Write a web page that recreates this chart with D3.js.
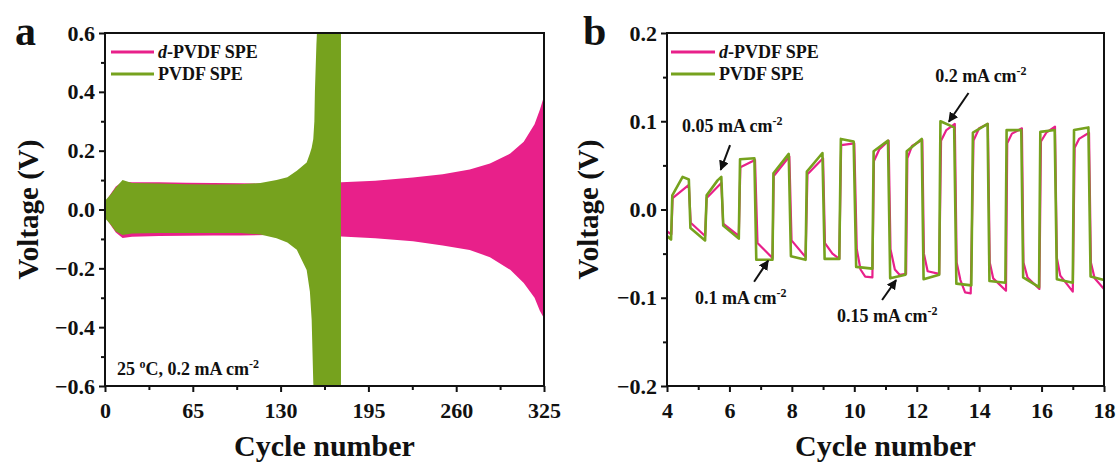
<!DOCTYPE html>
<html><head><meta charset="utf-8">
<script src="https://cdn.jsdelivr.net/npm/d3@7"></script>
<style>
html,body{margin:0;padding:0;background:#fff;}
svg text{font-family:"Liberation Serif","Times New Roman",serif;font-weight:bold;fill:#111;}
</style></head>
<body><svg id="chart" width="1118" height="463"></svg>
<script>
// ---------- DATA ----------
// Panel a: envelope of the voltage oscillation (cycle, upper V, lower V)
const dpvdfEnvCycle = [0, 3, 8, 13, 20, 40, 60, 80, 100, 120, 160, 175, 200, 228, 250, 270, 285, 300, 310, 318, 322, 325];
const dpvdfEnvUpper = [0.02, 0.045, 0.078, 0.094, 0.093, 0.093, 0.091, 0.09, 0.089, 0.088, 0.089, 0.093, 0.098, 0.109, 0.12, 0.136, 0.156, 0.19, 0.23, 0.29, 0.34, 0.385];
const dpvdfEnvLower = [-0.02, -0.045, -0.078, -0.097, -0.093, -0.09, -0.089, -0.088, -0.088, -0.087, -0.09, -0.092, -0.098, -0.108, -0.122, -0.138, -0.162, -0.205, -0.25, -0.3, -0.345, -0.37];

const pvdfEnvCycle = [0, 4, 8, 13, 20, 40, 60, 80, 100, 115, 127, 135, 142, 149.3, 151.7, 153, 154.2, 155, 155.4, 156.5, 157.4, 174.7];
const pvdfEnvUpper = [0.03, 0.05, 0.075, 0.1, 0.09, 0.088, 0.086, 0.085, 0.086, 0.09, 0.1, 0.11, 0.132, 0.16, 0.19, 0.21, 0.24, 0.3, 0.4, 0.56, 0.65, 0.65];
const pvdfEnvLower = [-0.03, -0.05, -0.075, -0.087, -0.082, -0.08, -0.08, -0.08, -0.08, -0.085, -0.098, -0.112, -0.137, -0.206, -0.28, -0.376, -0.59, -0.65, -0.65, -0.65, -0.65, -0.65];

// Panel b: voltage profiles (cycle number, V)
const dpvdfB_x = [4.0,4.14,4.18,4.7,4.76,5.22, 5.27,5.74,5.8,6.3, 6.35,6.82,6.9,7.38, 7.42,7.92,7.99,8.44, 8.5,9.0,9.06,9.3,9.52, 9.58,10.0,10.08,10.2,10.35,10.58, 10.63,10.8,11.1,11.16,11.3,11.45,11.66, 11.7,11.85,12.18,12.23,12.35,12.72, 12.78,12.95,13.22,13.28,13.4,13.55,13.73, 13.82,14.0,14.28,14.34,14.45,14.86, 14.9,15.05,15.37,15.42,15.55,15.93, 15.98,16.15,16.43,16.49,16.6,17.0, 17.06,17.2,17.52,17.58,17.7,18.0];
const dpvdfB_y = [-0.025,-0.028,0.013,0.028,-0.015,-0.03, 0.013,0.03,-0.016,-0.03, 0.048,0.056,-0.038,-0.055, 0.038,0.060,-0.035,-0.054, 0.040,0.058,-0.038,-0.05,-0.056, 0.073,0.075,-0.045,-0.068,-0.076,-0.077, 0.055,0.068,0.078,-0.045,-0.068,-0.074,-0.073, 0.058,0.072,0.079,-0.05,-0.07,-0.073, 0.078,0.09,0.097,-0.06,-0.08,-0.094,-0.095, 0.078,0.092,0.097,-0.06,-0.078,-0.092, 0.075,0.086,0.092,-0.06,-0.077,-0.09, 0.077,0.087,0.094,-0.055,-0.075,-0.093, 0.07,0.08,0.087,-0.06,-0.078,-0.09];

const pvdfB_x = [4.0,4.13,4.17,4.5,4.7,4.75,5.22, 5.27,5.62,5.74,5.8,6.3, 6.34,6.8,6.86,7.38, 7.41,7.9,7.97,8.44, 8.48,8.98,9.05,9.52, 9.57,9.98,10.06,10.58, 10.62,11.08,11.15,11.64, 11.68,12.16,12.22,12.72, 12.76,13.2,13.27,13.75, 13.8,14.27,14.33,14.84, 14.88,15.35,15.41,15.92, 15.96,16.42,16.49,17.0, 17.04,17.5,17.57,18.0];
const pvdfB_y = [-0.03,-0.034,0.016,0.037,0.034,-0.021,-0.035, 0.016,0.033,0.037,-0.018,-0.033, 0.057,0.058,-0.057,-0.057, 0.041,0.063,-0.053,-0.057, 0.043,0.064,-0.056,-0.056, 0.080,0.077,-0.065,-0.067, 0.066,0.078,-0.078,-0.074, 0.066,0.080,-0.079,-0.074, 0.100,0.093,-0.084,-0.086, 0.087,0.097,-0.081,-0.083, 0.090,0.090,-0.077,-0.088, 0.088,0.090,-0.079,-0.083, 0.090,0.093,-0.076,-0.080];

// Tick labels
const aXTicks = [0, 65, 130, 195, 260, 325];
const aYTicks = [-0.6, -0.4, -0.2, 0.0, 0.2, 0.4, 0.6];
const bXTicks = [4, 6, 8, 10, 12, 14, 16, 18];
const bYTicks = [-0.2, -0.1, 0.0, 0.1, 0.2];
const seriesNames = ["d-PVDF SPE", "PVDF SPE"];
const bNotes = [
  {label: "0.05 mA cm", tx: 4.48, ty: 0.0878, ax1: 6.02, ay1: 0.073, ax2: 5.72, ay2: 0.045},
  {label: "0.1 mA cm",  tx: 4.9,  ty: -0.107, ax1: 6.79, ay1: -0.0818, ax2: 7.24, ay2: -0.058},
  {label: "0.15 mA cm", tx: 9.45, ty: -0.1275, ax1: 10.89, ay1: -0.1026, ax2: 11.34, ay2: -0.08},
  {label: "0.2 mA cm",  tx: 12.59, ty: 0.1445, ax1: 13.66, ay1: 0.132, ax2: 13.03, ay2: 0.0995}
];

// ---------- STYLE ----------
const PINK = "#e8208a", GREEN = "#76a21e";
const svg = d3.select("#chart");
const plotTop = 33, plotBottom = 386;

const defs = svg.append("defs");
defs.append("marker").attr("id","arrow").attr("viewBox","0 0 10 10").attr("refX",9).attr("refY",5)
  .attr("markerWidth",5).attr("markerHeight",5).attr("markerUnits","strokeWidth").attr("orient","auto")
  .append("path").attr("d","M0,0 L10,5 L0,10 z").attr("fill","#111");

function fmt(v){ return v === 0 ? "0.0" : d3.format(".1f")(v); }

function frame(g, x, y, xMajor, xMinor, yMajor, yMinor, xFmt, yFmt){
  const [x0,x1] = x.range(), [y0,y1] = y.range();
  const xa = g.append("g").attr("transform",`translate(0,${y0})`)
    .call(d3.axisBottom(x).tickValues(xMajor).tickSize(6).tickPadding(10).tickFormat(xFmt));
  const xm = g.append("g").attr("transform",`translate(0,${y0})`)
    .call(d3.axisBottom(x).tickValues(xMinor).tickSize(4).tickFormat(""));
  const ya = g.append("g").attr("transform",`translate(${x0},0)`)
    .call(d3.axisLeft(y).tickValues(yMajor).tickSize(6).tickPadding(4).tickFormat(yFmt));
  const ym = g.append("g").attr("transform",`translate(${x0},0)`)
    .call(d3.axisLeft(y).tickValues(yMinor).tickSize(4).tickFormat(""));
  [xa,xm,ya,ym].forEach(a=>{
    a.select(".domain").remove();
    a.selectAll("line").attr("stroke","#111").attr("stroke-width",2);
    a.selectAll("text").style("font-size","22px").attr("fill","#111");
  });
  g.append("rect").attr("x",x0).attr("y",y1).attr("width",x1-x0).attr("height",y0-y1)
    .attr("fill","none").attr("stroke","#111").attr("stroke-width",2);
}

function titles(g, x, y, cx, letter, letterX){
  const [x0,x1] = x.range();
  g.append("text").attr("x",(x0+x1)/2).attr("y",456).attr("text-anchor","middle")
    .style("font-size","30px").text("Cycle number");
  g.append("text").attr("transform",`translate(${cx},209.5) rotate(-90)`).attr("text-anchor","middle")
    .style("font-size","29px").text("Voltage (V)");
  g.append("text").attr("x",letterX).attr("y",45).style("font-size","42px").text(letter);
}

function legend(g, lx, lineLen){
  const items = [{name: seriesNames[0], color: PINK, y: 52},{name: seriesNames[1], color: GREEN, y: 74}];
  items.forEach((it,i)=>{
    g.append("line").attr("x1",lx).attr("x2",lx+lineLen).attr("y1",it.y).attr("y2",it.y)
      .attr("stroke",it.color).attr("stroke-width",3);
    const t = g.append("text").attr("x",lx+lineLen+4).attr("y",it.y+6).style("font-size","18px");
    if (i===0){ t.append("tspan").style("font-style","italic").text("d"); t.append("tspan").text("-PVDF SPE"); }
    else t.text(it.name);
  });
}

// ---------- PANEL A ----------
const xA = d3.scaleLinear().domain([0,325]).range([105,544]);
const yA = d3.scaleLinear().domain([-0.6,0.6]).range([plotBottom,plotTop]);
const ga = svg.append("g");
defs.append("clipPath").attr("id","clipA").append("rect").attr("x",105).attr("y",plotTop).attr("width",439).attr("height",plotBottom-plotTop);
const area = d3.area().x(d=>xA(d[0])).y0(d=>yA(d[2])).y1(d=>yA(d[1]));
const envPink = dpvdfEnvCycle.map((c,i)=>[c,dpvdfEnvUpper[i],dpvdfEnvLower[i]]);
const envGreen = pvdfEnvCycle.map((c,i)=>[c,pvdfEnvUpper[i],pvdfEnvLower[i]]);
const pa = ga.append("g").attr("clip-path","url(#clipA)");
pa.append("path").attr("d",area(envPink)).attr("fill",PINK);
pa.append("path").attr("d",area(envGreen)).attr("fill",GREEN);
frame(ga, xA, yA, aXTicks, [32.5,97.5,162.5,227.5,292.5], aYTicks, [-0.5,-0.3,-0.1,0.1,0.3,0.5], d3.format("d"), fmt);
legend(ga, 111, 43);
const note = ga.append("text").attr("x",117).attr("y",375).style("font-size","18px");
note.append("tspan").text("25 ");
note.append("tspan").attr("dy",-7).style("font-size","12px").text("o");
note.append("tspan").attr("dy",7).text("C, 0.2 mA cm");
note.append("tspan").attr("dy",-7).style("font-size","12px").text("-2");
titles(ga, xA, yA, 38, "a", 15);

// ---------- PANEL B ----------
const xB = d3.scaleLinear().domain([4,18]).range([667,1104]);
const yB = d3.scaleLinear().domain([-0.2,0.2]).range([plotBottom,plotTop]);
const gb = svg.append("g");
const line = d3.line().x(d=>xB(d[0])).y(d=>yB(d[1]));
gb.append("path").attr("d",line(dpvdfB_x.map((x,i)=>[x,dpvdfB_y[i]]))).attr("fill","none")
  .attr("stroke",PINK).attr("stroke-width",2.2).attr("stroke-linejoin","round");
gb.append("path").attr("d",line(pvdfB_x.map((x,i)=>[x,pvdfB_y[i]]))).attr("fill","none")
  .attr("stroke",GREEN).attr("stroke-width",2.6).attr("stroke-linejoin","round");
frame(gb, xB, yB, bXTicks, [5,7,9,11,13,15,17], bYTicks, [-0.15,-0.05,0.05,0.15], d3.format("d"), fmt);
legend(gb, 671, 44);
bNotes.forEach(n=>{
  const t = gb.append("text").attr("x",xB(n.tx)).attr("y",yB(n.ty)).style("font-size","18px");
  t.append("tspan").text(n.label);
  t.append("tspan").attr("dy",-7).style("font-size","12px").text("-2");
  gb.append("line").attr("x1",xB(n.ax1)).attr("y1",yB(n.ay1)).attr("x2",xB(n.ax2)).attr("y2",yB(n.ay2))
    .attr("stroke","#111").attr("stroke-width",2).attr("marker-end","url(#arrow)");
});
titles(gb, xB, yB, 598, "b", 583);
</script></body></html>
